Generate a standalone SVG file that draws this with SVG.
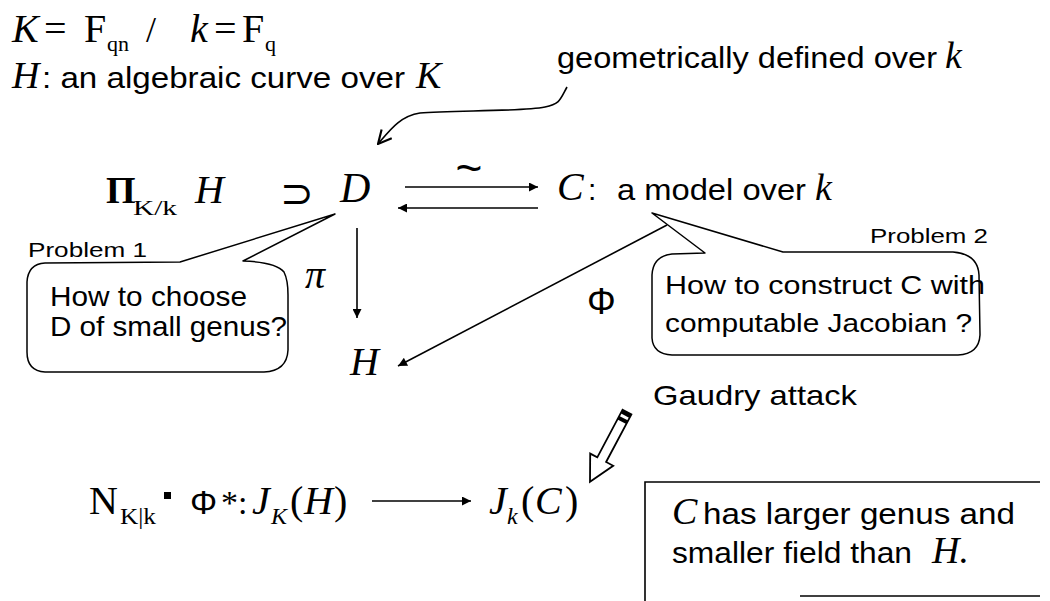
<svg xmlns="http://www.w3.org/2000/svg" width="1050" height="601" viewBox="0 0 1050 601">
<defs>
<style>
.serif{font-family:"Liberation Serif","Times New Roman",serif;fill:#000}
.it{font-style:italic}
.sans{font-family:"Liberation Sans",Arial,sans-serif;fill:#000}
.ln{stroke:#000;stroke-width:1.6;fill:none}
.bub{stroke:#000;stroke-width:1.5;fill:#fff;stroke-linejoin:round}
</style>
<marker id="ah" viewBox="0 0 10 10" refX="10" refY="5" markerWidth="13" markerHeight="9" markerUnits="userSpaceOnUse" orient="auto"><path d="M0,0 L10,5 L0,10 z" fill="#000"/></marker>
<marker id="oh" viewBox="0 0 12 12" refX="11" refY="6" markerWidth="16" markerHeight="16" markerUnits="userSpaceOnUse" orient="auto"><path d="M1,1 L11,6 L1,11" fill="none" stroke="#000" stroke-width="1.6"/></marker>
</defs>
<rect width="1050" height="601" fill="#fff"/>

<g id="header">
<text class="serif it" x="12" y="42" font-size="40">K</text>
<text class="serif" x="44" y="42" font-size="40">=</text>
<text class="serif" x="84" y="42" font-size="40">F</text>
<text class="serif" x="107" y="51" font-size="22">qn</text>
<text class="serif" x="146" y="42" font-size="36">/</text>
<text class="serif it" x="190" y="42" font-size="40">k</text>
<text class="serif" x="214" y="42" font-size="40">=</text>
<text class="serif" x="242" y="42" font-size="40">F</text>
<text class="serif" x="265" y="51" font-size="22">q</text>
<text class="serif it" x="12" y="88" font-size="38">H</text>
<text class="sans" x="42" y="88" font-size="30" textLength="363" lengthAdjust="spacingAndGlyphs">: an algebraic curve over</text>
<text class="serif it" x="416" y="88" font-size="38">K</text>
</g>

<g id="note-geometric">
<text class="sans" x="557" y="68" font-size="30" textLength="380" lengthAdjust="spacingAndGlyphs">geometrically defined over</text>
<text class="serif it" x="945" y="68" font-size="38">k</text>
</g>

<g id="node-weil">
<text class="serif" x="106" y="203" font-size="38" font-weight="bold">Π</text>
<text class="serif" x="133" y="215" font-size="22" textLength="44" lengthAdjust="spacingAndGlyphs">K/k</text>
<text class="serif it" x="195" y="203" font-size="40">H</text>
<text font-family="DejaVu Sans, sans-serif" x="280" y="207" font-size="40">⊃</text>
</g>

<g id="node-D">
<text class="serif it" x="340" y="202" font-size="42">D</text>
</g>

<g id="node-C">
<text class="serif it" x="557" y="200" font-size="40">C</text>
<text class="sans" x="588" y="200" font-size="30">:</text>
<text class="sans" x="617" y="200" font-size="30" textLength="189" lengthAdjust="spacingAndGlyphs">a model over</text>
<text class="serif it" x="815" y="200" font-size="38">k</text>
</g>

<g id="node-H">
<text class="serif it" x="350" y="375" font-size="40">H</text>
</g>

<g id="problem1">
<path class="bub" d="M180,262 L335,214 L243,261 Q276,262 284,272 Q288,280 288,295 L288,350 Q287,371 264,372 L45,372 Q27,371 27,352 L27,282 Q28,264 45,263 Z"/>
<text class="sans" x="28" y="257" font-size="21" textLength="119" lengthAdjust="spacingAndGlyphs">Problem 1</text>
<text class="sans" x="50" y="306" font-size="28" textLength="197" lengthAdjust="spacingAndGlyphs">How to choose</text>
<text class="sans" x="50" y="336" font-size="28" textLength="237" lengthAdjust="spacingAndGlyphs">D of small genus?</text>
</g>

<g id="problem2">
<path class="bub" d="M705,253 L652,213 L783,252 L953,252 Q978,254 979,275 L980,335 Q979,354 958,355 L672,355 Q653,354 652,338 L652,275 Q653,256 672,254 Z"/>
<text class="sans" x="870" y="243" font-size="21" textLength="118" lengthAdjust="spacingAndGlyphs">Problem 2</text>
<text class="sans" x="665" y="294" font-size="26" textLength="320" lengthAdjust="spacingAndGlyphs">How to construct  C with</text>
<text class="sans" x="665" y="332" font-size="26" textLength="307" lengthAdjust="spacingAndGlyphs">computable Jacobian ?</text>
</g>

<g id="labels">
<text class="sans" x="469" y="184" font-size="46" text-anchor="middle">~</text>
<text class="serif it" x="305" y="288" font-size="40">π</text>
<text class="sans" x="587" y="314" font-size="36">Φ</text>
<text class="sans" x="653" y="405" font-size="28" textLength="204" lengthAdjust="spacingAndGlyphs">Gaudry attack</text>
</g>

<g id="gaudry-arrow">
<polygon points="622.6,409.7 631.4,414.3 606.1,462 613.2,465.8 590,481.8 590.2,453.6 597.3,457.4" fill="#fff" stroke="#000" stroke-width="1.8" stroke-linejoin="miter"/>
<polygon points="622.6,409.7 631.4,414.3 629.5,417.9 620.7,413.2" fill="#000"/>
<polygon points="619.3,415.9 628.1,420.5 626.3,424 617.5,419.4" fill="#000"/>
</g>

<g id="connectors">
<path class="ln" d="M567,87 C560,100 560,104 545,107 C520,112 450,110 420,113 C400,116 390,130 378,144" marker-end="url(#oh)"/>
<line class="ln" x1="405" y1="187" x2="538" y2="187" marker-end="url(#ah)"/>
<line class="ln" x1="538" y1="208" x2="398" y2="208" marker-end="url(#ah)"/>
<line class="ln" x1="357" y1="228" x2="357" y2="318" marker-end="url(#ah)"/>
<line class="ln" x1="667" y1="225" x2="398" y2="366" marker-end="url(#ah)"/>
<line class="ln" x1="372" y1="501" x2="471" y2="501" marker-end="url(#ah)"/>
</g>

<g id="node-norm">
<text class="serif" x="89" y="514" font-size="40">N</text>
<text class="serif" x="120" y="524" font-size="24" textLength="36" lengthAdjust="spacingAndGlyphs">K|k</text>
<rect x="164" y="492" width="7" height="7" fill="#000"/>
<text class="sans" x="190" y="514" font-size="34">Φ</text>
<text class="serif" x="221" y="514" font-size="34">*</text>
<text class="serif" x="238" y="514" font-size="34">:</text>
<text class="serif it" x="252" y="514" font-size="40">J</text>
<text class="serif it" x="271" y="524" font-size="24">K</text>
<text class="serif" x="290" y="514" font-size="40">(</text>
<text class="serif it" x="304" y="514" font-size="40">H</text>
<text class="serif" x="334" y="514" font-size="40">)</text>
</g>

<g id="node-JC">
<text class="serif it" x="489" y="514" font-size="40">J</text>
<text class="serif it" x="507" y="524" font-size="24">k</text>
<text class="serif" x="521" y="514" font-size="40">(</text>
<text class="serif it" x="535" y="514" font-size="40">C</text>
<text class="serif" x="565" y="514" font-size="40">)</text>
</g>

<g id="note-box">
<path class="ln" d="M1040,482 L645,482 L645,601" stroke-width="2"/>
<line class="ln" x1="800" y1="596" x2="1040" y2="596" stroke-width="2"/>
<text class="serif it" x="672" y="524" font-size="38">C</text>
<text class="sans" x="703" y="524" font-size="30" textLength="312" lengthAdjust="spacingAndGlyphs">has larger genus and</text>
<text class="sans" x="672" y="563" font-size="30" textLength="240" lengthAdjust="spacingAndGlyphs">smaller field than</text>
<text class="serif it" x="932" y="563" font-size="38">H.</text>
</g>
</svg>
